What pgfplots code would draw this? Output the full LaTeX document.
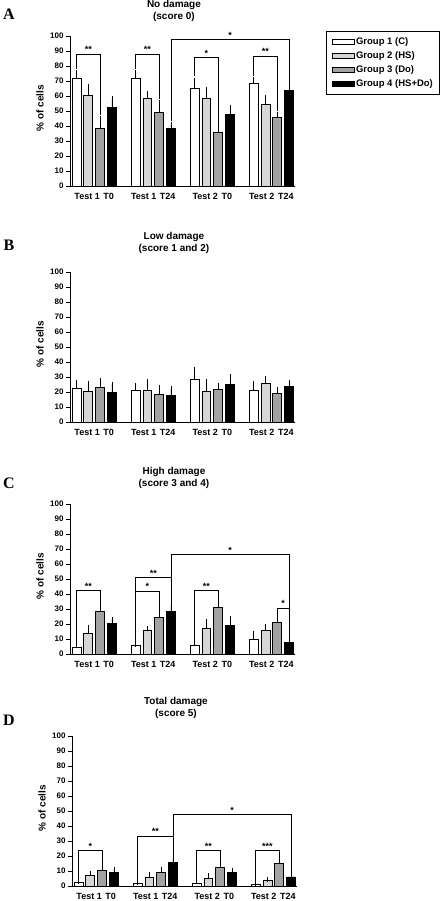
\documentclass[border=0pt]{standalone}
\usepackage{fontspec}
\setmainfont{Liberation Sans}
\newfontfamily\letterfont{Liberation Serif}
\usepackage{pgfplots}
\pgfplotsset{compat=1.18}
\usepackage{pgfplotstable}
\definecolor{gtwo}{HTML}{D6D6D6}
\definecolor{gthree}{HTML}{A2A2A2}

\pgfplotstableread{
x g1 e1 g2 e2 g3 e3 g4 e4
0 72.0 3.6 60.3 6.0 38.1 6.9 52.3 5.7
1 72.0 3.6 58.3 3.3 49.0 6.9 38.4 2.8
2 65.0 5.3 58.5 5.8 35.7 4.4 47.7 4.6
3 68.7 2.5 54.5 4.3 45.7 2.0 63.6 2.0
}\dataA
\pgfplotstableread{
x g1 e1 g2 e2 g3 e3 g4 e4
0 22.2 4.0 20.2 5.4 23.1 4.7 19.6 5.5
1 21.1 3.1 21.1 5.8 18.4 4.5 17.8 4.4
2 28.2 6.7 20.2 6.5 21.8 2.4 25.3 5.1
3 21.3 4.3 25.6 3.7 19.3 2.5 23.8 2.2
}\dataB
\pgfplotstableread{
x g1 e1 g2 e2 g3 e3 g4 e4
0 4.2 1.5 13.7 3.7 28.4 4.4 20.3 2.8
1 5.5 0.9 15.9 1.1 24.2 6.0 28.4 4.0
2 5.5 2.4 17.0 4.8 30.8 4.0 18.9 4.7
3 9.7 4.2 15.6 2.9 21.1 2.0 7.9 1.1
}\dataC
\pgfplotstableread{
x g1 e1 g2 e2 g3 e3 g4 e4
0 2.4 0.9 6.8 1.6 10.6 1.8 8.8 2.2
1 1.5 0.5 5.7 2.2 9.3 2.0 15.7 2.2
2 1.8 1.3 5.3 1.5 12.6 2.4 8.8 1.8
3 0.9 0.4 4.0 0.4 15.0 2.9 6.0 0.8
}\dataD

\pgfplotsset{
 panel/.style={
  scale only axis, width=225pt, height=150pt,
  xmin=-0.41, xmax=3.4, ymin=0, ymax=100,
  axis x line=bottom, axis y line=left,
  axis line style={-, line width=0.9pt, black},
  ytick={0,10,...,100}, tick align=outside, major tick length=4pt,
  ytick style={line width=0.8pt, black},
  xtick={0,1,2,3},
  xticklabels={Test 1\hspace{0.4em}T0, Test 1\hspace{0.4em}T24, Test 2\hspace{0.4em}T0, Test 2\hspace{0.4em}T24},
  xtick style={draw=none},
  /pgf/number format/assume math mode=true,
  yticklabel style={font=\bfseries\fontsize{8}{8}\selectfont, xshift=1pt},
  xticklabel style={font=\bfseries\fontsize{9}{9}\selectfont, yshift=0pt},
  ylabel={\% of cells},
  ylabel style={font=\bfseries\fontsize{10}{10}\selectfont, at={(-0.133,0.52)}, anchor=center},
  every axis title shift=0pt,
  title style={font=\bfseries\fontsize{10}{12}\selectfont, align=center, at={(0.462,1)}, anchor=south, inner sep=0pt},
  clip=false,
 },
 bars/.style={ybar, bar width=0.15, bar shift=0pt, draw=black, line width=0.8pt,
  error bars/y dir=plus, error bars/y explicit,
  error bars/error bar style={line width=0.8pt, black, solid},
  error bars/error mark options={black, solid, mark size=2.5pt, line width=0.8pt}},
 gA/.style={bars, fill=white},
 gB/.style={bars, fill=gtwo},
 gC/.style={bars, fill=gthree},
 gD/.style={bars, fill=black},
}
\tikzset{st/.style={font=\bfseries\fontsize{9}{9}\selectfont, above, inner sep=1pt},
 lt/.style={font=\letterfont\bfseries\fontsize{16}{16}\selectfont, anchor=center}}
\newcommand\br[7]{\draw[line width=0.6pt, black] (axis cs:#1,#2) -- (axis cs:#1,#3) -- (axis cs:#4,#3) -- (axis cs:#4,#5);
 \node[st] at (axis cs:#6,#3) {#7};}
\newcommand\bars[1]{%
 \addplot[gA] table[x expr=\thisrow{x}-0.3, y=g1, y error=e1] {#1};
 \addplot[gB] table[x expr=\thisrow{x}-0.1, y=g2, y error=e2] {#1};
 \addplot[gC] table[x expr=\thisrow{x}+0.1, y=g3, y error=e3] {#1};
 \addplot[gD] table[x expr=\thisrow{x}+0.3, y=g4, y error=e4] {#1};}

\begin{document}
\begin{tikzpicture}
\useasboundingbox (0,0) rectangle (441pt,901pt);

% Panel A
\begin{axis}[panel, at={(70pt,715pt)}, anchor=south west,
  title={No damage\\(score 0)}, title style={yshift=14pt},
  legend style={at={(1.138,1.033)}, anchor=north west, draw=black, line width=0.9pt,
    font=\bfseries\fontsize{9.5}{9.5}\selectfont, row sep=1.8pt, inner xsep=5pt, inner ysep=4pt,
    cells={anchor=west}},
  legend image code/.code={\draw[#1, line width=0.6pt] (0pt,-2.5pt) rectangle (22pt,2.5pt);},
]
\bars{\dataA}
\legend{Group 1 (C), Group 2 (HS), Group 3 (Do), Group 4 (HS+Do)}
\br{-0.3}{78}{88}{0.1}{47}{-0.1}{**}
\br{0.7}{78}{88}{1.1}{58}{0.9}{**}
\br{1.7}{73}{85.5}{2.1}{42}{1.9}{*}
\br{2.7}{73}{86.7}{3.1}{50}{2.9}{**}
\br{1.3}{43}{97.6}{3.3}{67}{2.3}{*}
\node[lt] at (rel axis cs:-0.271,1.147) {A};
\end{axis}

% Panel B
\begin{axis}[panel, at={(70pt,479pt)}, anchor=south west,
  title={Low damage\\(score 1 and 2)}, title style={yshift=18pt}]
\bars{\dataB}
\node[lt] at (rel axis cs:-0.271,1.18) {B};
\end{axis}

% Panel C
\begin{axis}[panel, at={(70pt,247pt)}, anchor=south west,
  title={High damage\\(score 3 and 4)}, title style={yshift=15pt}]
\bars{\dataC}
\br{-0.3}{7.5}{42.3}{0.1}{34}{-0.1}{**}
\br{0.7}{8}{41.9}{1.1}{31}{0.9}{*}
\br{0.7}{8}{51.1}{1.3}{33}{1.0}{**}
\br{1.7}{9}{42.3}{2.1}{36}{1.9}{**}
\br{3.1}{24.5}{30.6}{3.3}{10}{3.2}{*}
\br{1.3}{33}{66.5}{3.3}{10}{2.3}{*}
\node[lt] at (rel axis cs:-0.271,1.14) {C};
\end{axis}

% Panel D
\begin{axis}[panel, at={(72pt,15pt)}, anchor=south west,
  title={Total damage\\(score 5)}, title style={yshift=17pt}]
\bars{\dataD}
\br{-0.3}{4}{23.8}{0.1}{13}{-0.1}{*}
\br{0.7}{3}{33.3}{1.3}{19}{1.0}{**}
\br{1.7}{4}{23.8}{2.1}{16}{1.9}{**}
\br{2.7}{2}{23.8}{3.1}{19}{2.9}{***}
\br{1.3}{19}{47.7}{3.3}{8}{2.3}{*}
\node[lt] at (rel axis cs:-0.28,1.107) {D};
\end{axis}
\end{tikzpicture}
\end{document}
